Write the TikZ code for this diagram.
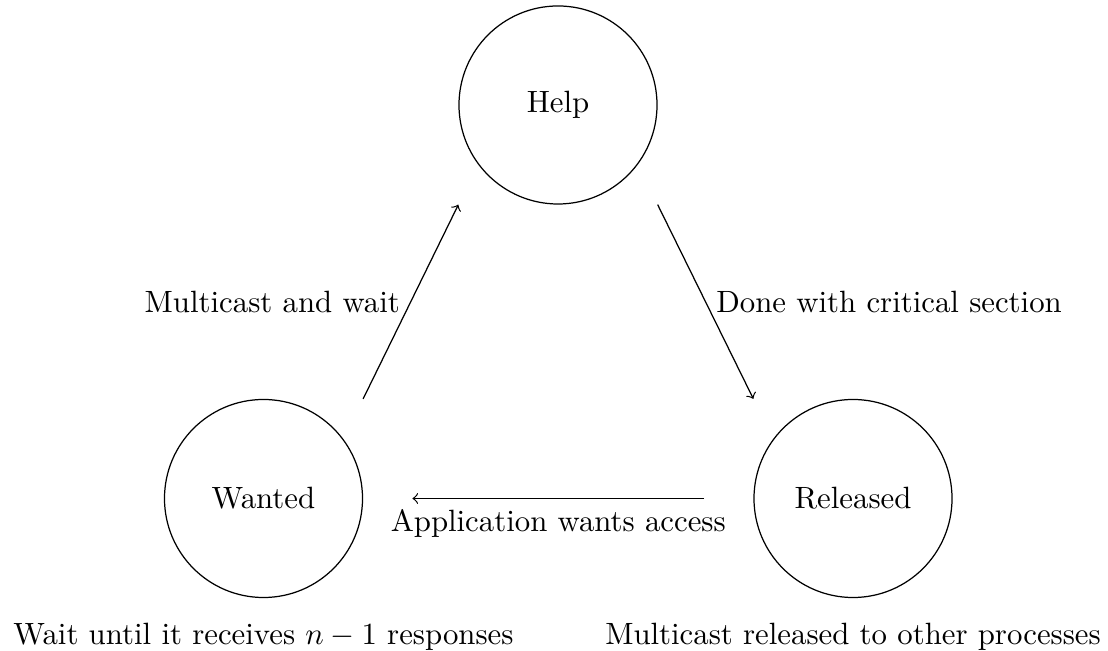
\documentclass[tikz,border=0pt]{standalone}
\begin{document}
\begin{tikzpicture}[x=0.3247pt,y=0.3247pt,
  state/.style={draw, circle, minimum size=64.3pt, inner sep=0pt},
  conn/.style={->},
  note/.style={anchor=base}]
\useasboundingbox (0,0) rectangle (1108,-651);
\node[state] (help) at (558,-105) {Help};
\node[state] (wanted) at (263.5,-498.5) {Wanted};
\node[state] (released) at (853,-498.5) {Released};
\draw[conn] (wanted.north -| wanted.east) -- node[left] {Multicast and wait} (help.south -| help.west);
\draw[conn] (help.south -| help.east) -- node[right] {Done with critical section} (released.north -| released.west);
\draw[conn] ([xshift=-16pt]released.west) -- node[below] {Application wants access} ([xshift=16pt]wanted.east);
\node[note] (wtext) at ([yshift=-15.1pt]wanted.south) {Wait until it receives $n-1$ responses};
\node[note] (rtext) at ([yshift=-15.1pt]released.south) {Multicast released to other processes};
\end{tikzpicture}
\end{document}
